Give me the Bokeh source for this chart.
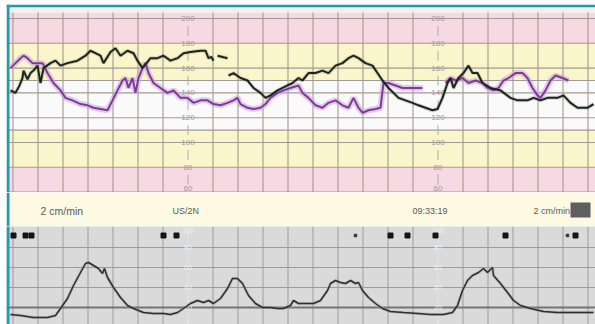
from bokeh.plotting import figure
from bokeh.layouts import column
from bokeh.models import Range1d
from bokeh.core.properties import value
from bokeh.embed import file_html
from bokeh.resources import INLINE

nan = float("nan")

# ---------------- data (time in minutes) ----------------
fhr1_t = [1.45, 1.55, 1.63, 1.69, 1.71, 1.79, 1.85, 1.91, 1.99, 2.05, 2.11, 2.25, 2.35, 2.45, 2.59, 2.79,
          2.95, 3.05, 3.15, 3.25, 3.31, 3.45, 3.55, 3.65, 3.79, 3.91, 3.99, 4.09, 4.17, 4.25, 4.39, 4.51,
          4.65, 4.79, 4.91, 5.05, 5.25, 5.35, 5.41, 5.47, 5.51, nan, 5.59, 5.69, 5.79, nan, 5.81, 5.91,
          6.05, 6.19, 6.31, 6.45, 6.55, 6.65, 6.79, 6.99, 7.09, 7.21, 7.29, 7.41, 7.55, 7.69, 7.81, 7.95,
          8.09, 8.21, 8.31, 8.41, 8.55, 8.69, 8.79, 8.89, 9.01, 9.11, 9.21, 9.35, 9.49, 9.61, 9.75, 9.89,
          9.99, 10.09, 10.19, 10.25, 10.31, 10.41, 10.51, 10.61, 10.69, 10.79, 10.89, 11.05, 11.25, 11.45,
          11.59, 11.79, 11.91, 12.05, 12.19, 12.39, 12.51, 12.65, 12.79, 12.99, 13.11]
fhr1_bpm = [142, 140, 146, 152, 158, 151, 156, 158, 162, 148, 160, 164, 166, 162, 164, 166,
            170, 174, 172, 170, 164, 173, 176, 170, 174, 172, 166, 160, 164, 168, 168, 170,
            166, 168, 172, 173, 174, 174, 168, 169, 166, nan, 170, 169, 168, nan, 154, 156,
            152, 150, 144, 140, 136, 138, 142, 146, 148, 152, 150, 156, 156, 158, 156, 162,
            164, 168, 170, 168, 164, 162, 156, 150, 144, 140, 136, 134, 132, 130, 128, 126,
            127, 136, 148, 152, 144, 152, 156, 162, 156, 156, 148, 144, 142, 136,
            134, 134, 136, 134, 136, 136, 138, 132, 128, 128, 131]

fhr2_t = [1.45, 1.55, 1.65, 1.71, 1.79, 1.89, 1.99, 2.09, 2.19, 2.31, 2.45, 2.55, 2.69, 2.85, 2.99, 3.11,
          3.25, 3.39, 3.49, 3.59, 3.69, 3.75, 3.81, 3.89, 3.95, 4.01, 4.09, 4.15, 4.21, 4.31, 4.45, 4.59,
          4.71, 4.85, 4.99, 5.11, 5.25, 5.39, 5.51, 5.65, 5.79, 5.91, 5.99, 6.05, 6.19, 6.31, 6.45, 6.55,
          6.65, 6.79, 6.91, 7.05, 7.21, 7.29, 7.41, 7.55, 7.69, 7.81, 7.95, 8.09, 8.21, 8.31, 8.41, 8.49,
          8.61, 8.75, 8.85, 8.91, 9.01, 9.15, 9.29, 9.41, 9.55, 9.69, nan, 10.15, 10.25, 10.35, 10.49,
          10.61, 10.75, 10.89, 10.99, 11.11, 11.21, 11.31, 11.41, 11.55, 11.69, 11.79, 11.89, 11.99,
          12.05, 12.15, 12.25, 12.35, 12.49, 12.61]
fhr2_bpm = [160, 164, 168, 170, 168, 164, 164, 164, 156, 148, 142, 136, 134, 131, 130, 128,
            127, 126, 134, 142, 150, 152, 144, 152, 140, 152, 160, 164, 156, 148, 144, 140,
            142, 136, 136, 132, 134, 134, 131, 130, 132, 134, 136, 131, 128, 127, 128, 131,
            136, 140, 142, 144, 146, 140, 136, 130, 128, 132, 134, 130, 128, 136, 128, 124,
            126, 127, 128, 148, 148, 146, 144, 144, 144, 144, nan, 148, 152, 150, 152,
            148, 150, 148, 144, 142, 144, 150, 152, 156, 156, 152, 144, 138,
            136, 142, 150, 154, 152, 150]

toco_t = [1.45, 1.65, 1.91, 2.19, 2.35, 2.45, 2.59, 2.71, 2.85, 2.95, 3.01, 3.11, 3.21, 3.29, 3.33, 3.39,
          3.51, 3.65, 3.79, 3.91, 4.11, 4.31, 4.51, 4.65, 4.79, 4.91, 5.05, 5.19, 5.31, 5.41, 5.51, 5.65,
          5.79, 5.89, 5.99, 6.09, 6.21, 6.35, 6.49, 6.65, 6.79, 6.91, 7.05, 7.11, 7.21, 7.31, 7.51, 7.65,
          7.79, 7.85, 7.95, 8.05, 8.15, 8.25, 8.35, 8.41, 8.49, 8.61, 8.75, 8.89, 9.05, 9.31, 9.59, 9.85,
          10.11, 10.29, 10.39, 10.49, 10.59, 10.69, 10.81, 10.91, 10.99, 11.09, 11.11, 11.25, 11.39, 11.51,
          11.65, 11.85, 12.11, 12.39, 12.65, 12.91, 13.11]
toco_val = [13, 12, 10, 10, 12, 19, 29, 42, 55, 64, 65, 62, 59, 54, 59, 50,
            40, 30, 22, 19, 15, 14, 14, 13, 15, 19, 24, 27, 25, 27, 24, 29,
            39, 49, 49, 44, 32, 24, 20, 20, 19, 19, 22, 27, 24, 24, 24, 27,
            37, 44, 47, 45, 44, 47, 44, 45, 37, 30, 24, 19, 16, 15, 14, 13,
            13, 15, 22, 37, 47, 52, 55, 59, 55, 60, 52, 44, 35, 27,
            22, 19, 16, 15, 15, 15, 15]

event_t = [1.51, 1.75, 1.87, 4.51, 4.77, 9.05, 9.39, 9.95, 11.35, 12.75]
small_event_t = [8.35, 12.59]
event_level = 92

fhr_ticks = [200, 180, 160, 140, 120, 100, 80, 60]
toco_ticks = [100, 80, 60, 40, 20]
label_cols = [5.0, 10.0]
grid_t = [1.5, 2.0, 2.5, 3.0, 3.5, 4.0, 4.5, 5.5, 6.0, 6.5, 7.0, 7.5, 8.0, 8.5, 9.0, 9.5,
          10.5, 11.0, 11.5, 12.0, 12.5, 13.0]
fhr_grid = [60, 80, 100, 110, 120, 140, 150, 160, 180, 200]
toco_grid = [40, 60, 80]
toco_ref = [20]

band_lo = [40, 80, 110, 150, 180, 204.8]
band_hi = [80, 110, 150, 180, 204.8, 209]
band_colors = ["#f6d9e2", "#fbf5cb", "#fbfafa", "#fbf5cb", "#f6d9e2", "#f4f2e6"]

strip_text = ["2 cm/min", "US/2N", "09:33:19", "2 cm/min"]
strip_t = [2.05, 4.69, 9.49, 11.91]
strip_size = ["10.5px", "9px", "9px", "9px"]

TEAL = "#1f9cb4"
FONT = value("Liberation Sans")

xr = Range1d(1.37, 13.15)
W = 595
STRIPE_T = 0.06      # width of the teal frame stripe, in minutes (3 px)


def base(h, yr, top_border=0, bg="#ffffff"):
    f = figure(width=W, height=h, x_range=xr, y_range=yr, output_backend="svg",
               toolbar_location=None, tools="", x_axis_location=None, y_axis_location=None,
               min_border_left=6, min_border_right=0, min_border_top=top_border,
               min_border_bottom=0, border_fill_color="white", outline_line_color=None,
               background_fill_color=bg)
    f.grid.visible = False
    return f


def teal_left(f, lo, hi):
    f.quad(left=xr.start, right=xr.start + STRIPE_T, bottom=lo, top=hi, fill_color=TEAL, line_color=None)


# ---------------- FHR panel ----------------
fhr_range = Range1d(59.68, 211.29)
top = base(192, fhr_range, top_border=4)
top.quad(left=xr.start, right=xr.end, bottom=band_lo, top=band_hi,
         fill_color=band_colors, line_color=None)
top.segment(x0=grid_t, x1=grid_t, y0=band_lo[0], y1=band_hi[-2], line_color="#a09a92", line_width=1.1)
top.segment(x0=xr.start, x1=xr.end, y0=fhr_grid, y1=fhr_grid, line_color="#a09a92", line_width=1.1)
for c in label_cols:
    top.segment(x0=c, x1=c, y0=[v - 6 for v in fhr_ticks[:-1]], y1=[v - 14 for v in fhr_ticks[:-1]],
                line_color="#aaaaaa", line_width=1)
    top.text(x=c, y=[max(v, 63) for v in fhr_ticks], text=[str(v) for v in fhr_ticks], text_font=FONT,
             text_font_size="8px", text_align="center", text_baseline="middle", text_color="#999999")

top.line(fhr2_t, fhr2_bpm, line_color="#cba6dc", line_width=6, line_alpha=0.55)
top.line(fhr1_t, fhr1_bpm, line_color="#7a857a", line_width=4, line_alpha=0.3)
top.line(fhr2_t, fhr2_bpm, line_color="#7e3a98", line_width=2)
top.line(fhr1_t, fhr1_bpm, line_color="#1c241c", line_width=2)
top.quad(left=xr.start, right=xr.end, bottom=band_hi[-1], top=fhr_range.end, fill_color=TEAL, line_color=None)
teal_left(top, fhr_range.start, fhr_range.end)

# ---------------- info strip ----------------
mid = base(34, Range1d(0, 1), bg="#fcfae3")
mid.text(x=strip_t, y=0.47, text=strip_text, text_font=FONT, text_font_size=strip_size,
         text_align="left", text_baseline="middle", text_color="#5a5a5a")
mid.quad(left=[12.65], right=[13.05], bottom=[0.265], top=[0.705], fill_color="#5f5f5f", line_color=None)
teal_left(mid, 0, 1)

# ---------------- TOCO panel ----------------
toco_range = Range1d(3, 101)
bot = base(98, toco_range, bg="#dadadb")
bot.segment(x0=grid_t, x1=grid_t, y0=toco_range.start, y1=toco_range.end, line_color="#9c9c9c", line_width=1)
bot.segment(x0=xr.start, x1=xr.end, y0=toco_grid, y1=toco_grid, line_color="#9c9c9c", line_width=1)
bot.segment(x0=xr.start, x1=xr.end, y0=toco_ref, y1=toco_ref, line_color="#747474", line_width=2)
for c in label_cols:
    bot.segment(x0=c, x1=c, y0=[v - 5 for v in toco_ticks], y1=[v - 15 for v in toco_ticks],
                line_color="#f0f0f0", line_width=1, line_dash="2 2")
    bot.text(x=c, y=[min(v, 97) for v in toco_ticks], text=[str(v) for v in toco_ticks], text_font=FONT,
             text_font_size="7px", text_align="center", text_baseline="middle", text_color="#f2f2f2")
bot.line(toco_t, toco_val, line_color="#9a9a9a", line_width=3, line_alpha=0.5)
bot.line(toco_t, toco_val, line_color="#2e2e2e", line_width=1.5)
bot.scatter(event_t, [event_level] * len(event_t), marker="square", size=5, color="#151515")
bot.scatter(small_event_t, [event_level] * len(small_event_t), marker="square", size=2.5, color="#303030")
teal_left(bot, toco_range.start, toco_range.end)

p = column(top, mid, bot, spacing=0)

open("out.html", "w").write(file_html(p, INLINE, title="CTG"))
